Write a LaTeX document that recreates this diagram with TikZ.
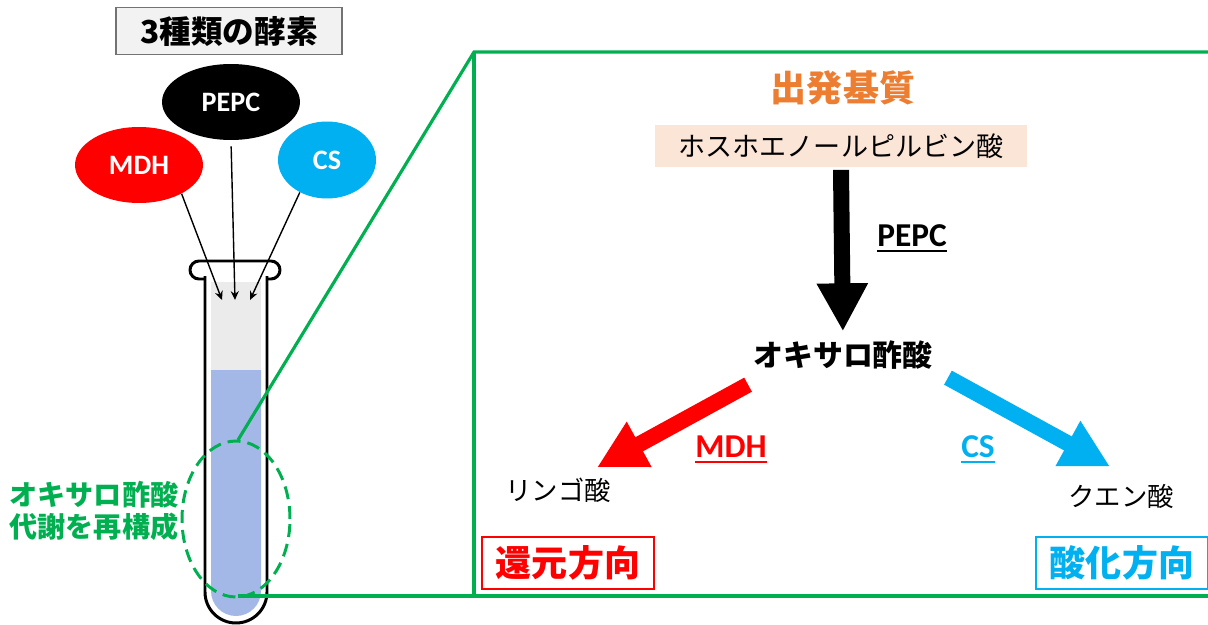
\documentclass[tikz,border=0pt]{standalone}
\usepackage{fontspec}
\setmainfont{Carlito}
\newfontfamily\jp{Noto Sans CJK JP}
\usetikzlibrary{shapes.geometric,arrows.meta}

\definecolor{kred}{HTML}{FF0000}
\definecolor{kcyan}{HTML}{00B0F0}
\definecolor{kgreen}{HTML}{00B050}
\definecolor{korange}{HTML}{ED7D31}
\definecolor{kbeige}{HTML}{FBE5D6}
\definecolor{kliquid}{HTML}{A4B8E8}
\definecolor{kglass}{HTML}{EBEBEB}

% underlined enzyme name
\newcommand{\ulabel}[1]{\setbox0\hbox{#1}\rlap{\rule[-3.2pt]{\wd0}{1.2pt}}\box0}

\begin{document}
\begin{tikzpicture}[x=0.02cm, y=-0.02cm,
    enzyme/.style={ellipse, fill=#1, text=white, inner sep=0pt,
        font=\bfseries\fontsize{16}{18}\selectfont},
    feed/.style={-{Stealth[length=5pt,width=4.5pt]}, line width=0.8pt},
    glass/.style={draw=black, fill=white, line width=1.7pt},
    focus/.style={ellipse, draw=kgreen, line width=1.7pt, dash pattern=on 0.26cm off 0.14cm,
        minimum width=2.16cm, minimum height=3.12cm, inner sep=0pt},
    zoomline/.style={draw=kgreen, line width=1.8pt},
    flow/.style={line width=0.32cm, -{Triangle[length=0.96cm,width=0.96cm]}},
    jptext/.style={font=\jp\fontsize{15}{18}\selectfont, inner sep=0pt},
    enzlabel/.style={font=\bfseries\fontsize{19}{22}\selectfont, inner sep=0pt},
    dirbox/.style={draw=#1, text=#1, line width=0.6pt, minimum width=3.44cm, minimum height=1.04cm,
        font=\jp\bfseries\fontsize{20.5}{24}\selectfont}
  ]
\useasboundingbox (0,0) rectangle (1208,625);

% the three enzymes
\node[draw=black!55, fill=black!5, line width=0.8pt, minimum width=4.52cm, minimum height=0.94cm,
    font=\jp\bfseries\fontsize{18}{20}\selectfont] (title) at (229,31) {3種類の酵素};
\node[enzyme=black, minimum width=2.76cm, minimum height=1.52cm] (pepc) at (231,102) {PEPC};
\node[enzyme=kred, minimum width=2.56cm, minimum height=1.52cm] (mdh) at (139,165) {MDH};
\node[enzyme=kcyan, minimum width=1.96cm, minimum height=1.54cm] (cs) at (327,160) {CS};

% test tube
\draw[glass, rounded corners=0.18cm] (190,261) rectangle (280,279);
\draw[glass, rounded corners=0.62cm] (267,276) -- (267,623) -- (205,623) -- (205,276);
\fill[kglass] (211,282) rectangle (261,370);
\fill[kliquid, rounded corners=0.5cm] (261,370) -- (261,616) -- (211,616) -- (211,370);

\coordinate (inL) at (222,300);
\coordinate (inM) at (235,300);
\coordinate (inR) at (250,300);
\draw[feed] (mdh.-34) -- (inL);
\draw[feed, shorten <=0.12cm] (pepc.south) -- (inM);
\draw[feed] (cs.230) -- (inR);

% reconstituted part of the tube
\node[focus] (focus) at (236,519) {};
\node[jptext, text=kgreen, align=center, font=\jp\bfseries\fontsize{16}{18.2}\selectfont]
    (focuslabel) at (94,511) {オキサロ酢酸\\代謝を再構成};

% zoom frame
\coordinate (zfrom) at (238,440);
\coordinate (zbase) at (238,596);
\coordinate (boxtl) at (474,52);
\coordinate (boxbl) at (474,596);
\coordinate (boxtr) at (1208,52);
\coordinate (boxbr) at (1208,596);
\draw[zoomline] (zfrom) -- (boxtl) -- (boxtr);
\draw[zoomline] (boxtl) -- (boxbl);
\draw[zoomline] (zbase) -- (boxbr);

% pathway
\node[jptext, text=korange, font=\jp\bfseries\fontsize{20.5}{24}\selectfont] (start) at (843,88) {出発基質};
\node[jptext, fill=kbeige, minimum width=7.44cm, minimum height=0.86cm, font=\jp\fontsize{15.4}{18}\selectfont]
    (pep) at (841,146) {ホスホエノールピルビン酸};
\node[jptext, font=\jp\bfseries\fontsize{17}{20}\selectfont] (oaa) at (843,355) {オキサロ酢酸};
\node[jptext] (malate) at (558,490) {リンゴ酸};
\node[jptext] (citrate) at (1121,496) {クエン酸};

\draw[flow, black, shorten >=0.18cm] ([yshift=-0.04cm]pep.south) -- (oaa.north);
\draw[flow, kred] ([xshift=-0.1cm,yshift=-0.3cm]oaa.south west)
    -- ([xshift=-0.28cm,yshift=0.2cm]malate.north east);
\draw[flow, kcyan] ([xshift=0.3cm,yshift=-0.16cm]oaa.south east)
    -- ([xshift=-0.22cm,yshift=0.34cm]citrate.north);

\node[enzlabel] (pepclabel) at (912,238) {\ulabel{PEPC}};
\node[enzlabel, text=kred] (mdhlabel) at (731,449) {\ulabel{MDH}};
\node[enzlabel, text=kcyan] (cslabel) at (978,449) {\ulabel{CS}};

\node[dirbox=kred] (reduction) at (568,563) {還元方向};
\node[dirbox=kcyan] (oxidation) at (1122,563) {酸化方向};
\end{tikzpicture}
\end{document}
